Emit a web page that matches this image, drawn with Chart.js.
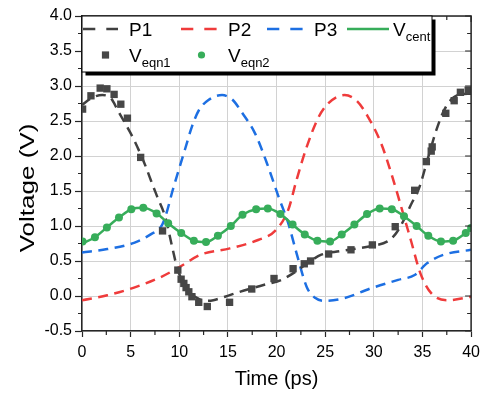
<!DOCTYPE html>
<html>
<head>
<meta charset="utf-8">
<script src="https://cdn.jsdelivr.net/npm/chart.js@4/dist/chart.umd.min.js"></script>
<style>
  html, body { margin: 0; padding: 0; background: #ffffff; }
  #wrap { width: 486px; height: 397px; }
</style>
</head>
<body>
<div id="wrap"><canvas id="c" width="486" height="397"></canvas></div>
<script>
// ---- Data ----
const xTicks = [0, 5, 10, 15, 20, 25, 30, 35, 40];
const yTicks = [-0.5, 0, 0.5, 1, 1.5, 2, 2.5, 3, 3.5, 4];

const p1T = [0, 1, 2.1, 3, 3.65, 4.5, 5.35, 6.55, 7.06, 7.73, 8.6, 9.27, 9.85, 10.5, 11.15, 12, 12.7, 13.5, 14.7, 16, 17.45, 19, 20.5, 22.2, 23.5, 24.6, 26.5, 28.4, 30, 31.4, 32.2, 32.8, 33.8, 34.7, 35.5, 36.55, 37.4, 38.6, 40];
const p1V = [2.73, 2.83, 2.87, 2.82, 2.66, 2.45, 2.23, 1.85, 1.66, 1.42, 1.11, 0.70, 0.37, 0.18, 0.04, -0.04, -0.07, -0.06, -0.01, 0.05, 0.11, 0.17, 0.23, 0.37, 0.50, 0.59, 0.64, 0.68, 0.72, 0.78, 0.88, 1.01, 1.30, 1.56, 1.94, 2.42, 2.70, 2.87, 2.89];

const p2T = [0, 2.6, 5.35, 8.1, 10.1, 12.2, 15.2, 18.1, 19.85, 21.2, 22.06, 23.1, 24.3, 25.3, 27.0, 28.3, 29.4, 30.75, 31.8, 32.8, 33.8, 34.8, 35.9, 37.6, 40];
const p2V = [-0.06, 0.01, 0.12, 0.27, 0.42, 0.59, 0.68, 0.80, 0.93, 1.23, 1.66, 2.13, 2.55, 2.75, 2.87, 2.78, 2.56, 2.18, 1.75, 1.28, 0.80, 0.32, 0.04, -0.06, -0.01];

const p3T = [0, 2.6, 5.35, 7.06, 8.25, 8.76, 9.3, 9.9, 10.6, 11.3, 12.0, 13.0, 14.4, 15.5, 16.4, 17.8, 19.0, 20.2, 21.2, 22.06, 23.1, 24.0, 25.0, 27.0, 29.7, 32.5, 34.2, 35.5, 37.2, 40];
const p3V = [0.62, 0.67, 0.76, 0.88, 1.02, 1.22, 1.50, 1.78, 2.10, 2.42, 2.65, 2.80, 2.87, 2.80, 2.63, 2.32, 1.90, 1.42, 1.04, 0.61, 0.13, -0.03, -0.07, -0.03, 0.11, 0.23, 0.30, 0.47, 0.59, 0.66];

const eqn1T = [0.06, 0.92, 1.87, 2.56, 3.3, 3.99, 4.67, 6.03, 8.28, 9.85, 10.19, 10.47, 10.7, 10.98, 11.3, 12.0, 12.88, 15.17, 17.45, 19.74, 21.7, 22.85, 23.5, 25.35, 27.65, 29.85, 32.2, 34.2, 35.4, 35.9, 36.0, 37.4, 38.26, 38.9, 39.7];
const eqn1V = [2.67, 2.86, 2.97, 2.96, 2.88, 2.74, 2.54, 1.98, 0.93, 0.37, 0.24, 0.18, 0.12, 0.06, -0.01, -0.09, -0.15, -0.09, 0.10, 0.25, 0.39, 0.46, 0.50, 0.60, 0.66, 0.73, 0.99, 1.51, 1.92, 2.07, 2.13, 2.61, 2.79, 2.91, 2.94];

const eqn2T = [0.06, 1.33, 2.56, 3.8, 5.07, 6.3, 7.67, 8.86, 10.2, 11.5, 12.75, 13.97, 15.3, 16.5, 17.9, 19.1, 20.4, 21.65, 22.9, 24.2, 25.5, 26.7, 28.0, 29.3, 30.6, 31.85, 33.1, 34.4, 35.6, 36.9, 38.15, 39.45, 40];
const eqn2V = [0.78, 0.84, 0.98, 1.12, 1.24, 1.26, 1.18, 1.04, 0.90, 0.79, 0.77, 0.86, 1.00, 1.16, 1.24, 1.25, 1.17, 1.02, 0.88, 0.79, 0.78, 0.88, 1.02, 1.17, 1.25, 1.24, 1.14, 1.00, 0.86, 0.78, 0.79, 0.90, 0.97];

const vcentT = [0, 1.33, 2.56, 3.8, 5.07, 6.3, 7.67, 8.86, 10.2, 11.5, 12.75, 13.97, 15.3, 16.5, 17.9, 19.1, 20.4, 21.65, 22.9, 24.2, 25.5, 26.7, 28.0, 29.3, 30.6, 31.85, 33.1, 34.4, 35.6, 36.9, 38.15, 39.45, 40];
const vcentV = [0.75, 0.84, 0.98, 1.12, 1.24, 1.26, 1.18, 1.04, 0.90, 0.79, 0.77, 0.86, 1.00, 1.16, 1.24, 1.25, 1.17, 1.02, 0.88, 0.79, 0.78, 0.88, 1.02, 1.17, 1.25, 1.24, 1.14, 1.00, 0.86, 0.78, 0.79, 0.90, 0.96];

const seriesNames = ['P1', 'P2', 'P3', 'V', 'V', 'V'];
const seriesSubs = ['', '', '', 'cent', 'eqn1', 'eqn2'];
const xTitle = 'Time (ps)';
const yTitle = 'Voltage (V)';

// ---- Styles ----
const FONT = '"Liberation Sans", Arial, Helvetica, sans-serif';
const C_P1 = '#404040', C_P2 = '#ef3b3b', C_P3 = '#1d6fe2', C_G = '#37ad5a', C_SQ = '#474747';
const AXIS = '#262626';
const DASH = [10, 6.5];

const pts = (t, v) => t.map((x, i) => ({x: x, y: v[i]}));

const lineDs = (label, t, v, color, dash, order) => ({
  label, data: pts(t, v), showLine: true, borderColor: color, backgroundColor: color,
  borderWidth: 2.5, borderDash: dash, pointRadius: 0, pointHoverRadius: 0,
  cubicInterpolationMode: 'monotone', order
});

const data = {
  datasets: [
    lineDs('P1', p1T, p1V, C_P1, DASH, 3),
    lineDs('P2', p2T, p2V, C_P2, DASH, 4),
    lineDs('P3', p3T, p3V, C_P3, DASH, 5),
    lineDs('Vcent', vcentT, vcentV, C_G, [], 2),
    { label: 'Veqn1', data: pts(eqn1T, eqn1V), showLine: false, pointStyle: 'rect',
      pointRadius: 5.2, pointBackgroundColor: C_SQ, pointBorderColor: C_SQ, pointBorderWidth: 0, order: 1 },
    { label: 'Veqn2', data: pts(eqn2T, eqn2V), showLine: false, pointStyle: 'circle',
      pointRadius: 4, pointBackgroundColor: C_G, pointBorderColor: C_G, pointBorderWidth: 0, order: 0 }
  ]
};

// ---- Plugin: frame, minor / mirrored ticks, legend, y title ----
const decor = {
  id: 'decor',
  afterDatasetsDraw(chart) {
    const ctx = chart.ctx, a = chart.chartArea, xs = chart.scales.x, ys = chart.scales.y;
    ctx.save();
    ctx.strokeStyle = AXIS;
    ctx.lineWidth = 1.5;
    // top & right frame
    ctx.beginPath();
    ctx.moveTo(a.left, a.top); ctx.lineTo(a.right, a.top); ctx.lineTo(a.right, a.bottom);
    ctx.stroke();
    ctx.lineWidth = 1.2;
    ctx.beginPath();
    // bottom minor ticks (outward) and top ticks (inward)
    for (let i = 0; i < xTicks.length; i++) {
      const xm = xs.getPixelForValue(xTicks[i]);
      ctx.moveTo(xm, a.top); ctx.lineTo(xm, a.top + 6);
      if (i < xTicks.length - 1) {
        const xn = xs.getPixelForValue((xTicks[i] + xTicks[i + 1]) / 2);
        ctx.moveTo(xn, a.bottom); ctx.lineTo(xn, a.bottom + 4);
        ctx.moveTo(xn, a.top); ctx.lineTo(xn, a.top + 4);
      }
    }
    // left minor ticks (outward) and right ticks (inward)
    for (let i = 0; i < yTicks.length; i++) {
      const ym = ys.getPixelForValue(yTicks[i]);
      ctx.moveTo(a.right, ym); ctx.lineTo(a.right - 6, ym);
      if (i < yTicks.length - 1) {
        const yn = ys.getPixelForValue((yTicks[i] + yTicks[i + 1]) / 2);
        ctx.moveTo(a.left, yn); ctx.lineTo(a.left - 4, yn);
        ctx.moveTo(a.right, yn); ctx.lineTo(a.right - 4, yn);
      }
    }
    ctx.stroke();

    // legend box with shadow
    const bx = a.left, by = a.top, bw = 350, bh = 56;
    ctx.fillStyle = '#000';
    ctx.fillRect(bx + 3.5, by + 3.5, bw, bh);
    ctx.fillStyle = '#fff';
    ctx.fillRect(bx, by, bw, bh);
    ctx.strokeStyle = '#000'; ctx.lineWidth = 1;
    ctx.strokeRect(bx, by, bw, bh);

    const r1 = by + 13, r2 = by + 39;
    const sample = (x0, x1, y, color, dash) => {
      ctx.save();
      ctx.strokeStyle = color; ctx.lineWidth = 2.5; ctx.setLineDash(dash);
      ctx.beginPath(); ctx.moveTo(x0, y); ctx.lineTo(x1, y); ctx.stroke();
      ctx.restore();
    };
    const label = (x, y, main, sub) => {
      ctx.fillStyle = '#000';
      ctx.textAlign = 'left'; ctx.textBaseline = 'alphabetic';
      ctx.font = '19px ' + FONT;
      ctx.fillText(main, x, y + 6.8);
      if (sub) {
        const w = ctx.measureText(main).width;
        ctx.font = '13px ' + FONT;
        ctx.fillText(sub, x + w, y + 11.5);
      }
    };
    const LD = [12.3, 11];
    sample(bx + 1, bx + 36, r1, C_P1, LD);  label(bx + 47, r1, seriesNames[0], seriesSubs[0]);
    sample(bx + 99, bx + 135, r1, C_P2, LD); label(bx + 146, r1, seriesNames[1], seriesSubs[1]);
    sample(bx + 185, bx + 221, r1, C_P3, LD); label(bx + 232, r1, seriesNames[2], seriesSubs[2]);
    sample(bx + 265, bx + 307, r1, C_G, []); label(bx + 311, r1, seriesNames[3], seriesSubs[3]);
    ctx.fillStyle = C_SQ;
    ctx.fillRect(bx + 23.5 - 3.6, r2 - 3.6, 7.2, 7.2);
    label(bx + 47, r2, seriesNames[4], seriesSubs[4]);
    ctx.fillStyle = C_G;
    ctx.beginPath(); ctx.arc(bx + 119.5, r2, 3.6, 0, Math.PI * 2); ctx.fill();
    label(bx + 146, r2, seriesNames[5], seriesSubs[5]);

    // y axis title
    ctx.save();
    ctx.translate(28, 188);
    ctx.rotate(-Math.PI / 2);
    ctx.scale(1.3, 1);
    ctx.font = '20px ' + FONT;
    ctx.fillStyle = '#000';
    ctx.textAlign = 'center'; ctx.textBaseline = 'middle';
    ctx.fillText(yTitle, 0, 0);
    ctx.restore();
    ctx.restore();
  }
};

new Chart(document.getElementById('c'), {
  type: 'scatter',
  data,
  plugins: [decor],
  options: {
    responsive: false,
    animation: false,
    devicePixelRatio: 1,
    layout: { padding: { top: 16, right: 12, left: 0, bottom: 0 } },
    plugins: { legend: { display: false }, tooltip: { enabled: false } },
    scales: {
      x: {
        type: 'linear', min: 0, max: 40,
        afterFit: s => { s.height = 66; },
        afterBuildTicks: s => { s.ticks = xTicks.map(v => ({value: v})); },
        ticks: { color: '#000', font: { size: 16, family: FONT }, padding: 6, maxRotation: 0,
                 callback: v => String(v) },
        grid: { color: '#d2d2d2', lineWidth: 1, tickLength: 6, tickColor: AXIS, tickWidth: 1.2 },
        border: { color: AXIS, width: 1.5 },
        title: { display: true, text: xTitle, color: '#000', font: { size: 20, family: FONT }, padding: { top: 0, bottom: 6 } }
      },
      y: {
        type: 'linear', min: -0.5, max: 4,
        afterFit: s => { s.width = 82; },
        afterBuildTicks: s => { s.ticks = yTicks.map(v => ({value: v})); },
        ticks: { color: '#000', font: { size: 16, family: FONT }, padding: 3,
                 callback: v => v.toFixed(1) },
        grid: { color: '#d2d2d2', lineWidth: 1, tickLength: 7, tickColor: AXIS, tickWidth: 1.2 },
        border: { color: AXIS, width: 1.5 },
        title: { display: false }
      }
    }
  }
});
</script>
</body>
</html>
